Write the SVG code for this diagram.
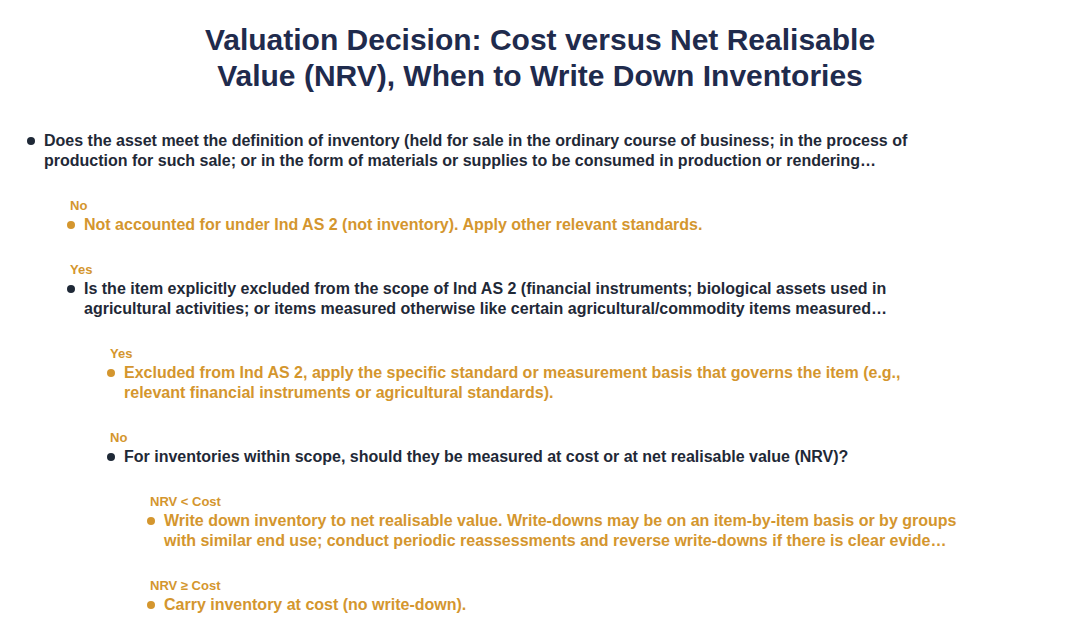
<svg xmlns="http://www.w3.org/2000/svg" width="1080" height="642" viewBox="0 0 1080 642">
<style>
.t{font-family:"Liberation Sans",Arial,sans-serif;font-weight:bold;font-size:30px;fill:#1f2b4d;text-anchor:middle}
.q{font-family:"Liberation Sans",Arial,sans-serif;font-weight:bold;font-size:16px;fill:#1f2937}
.a{font-family:"Liberation Sans",Arial,sans-serif;font-weight:bold;font-size:16px;fill:#d4962e}
.l{font-family:"Liberation Sans",Arial,sans-serif;font-weight:bold;font-size:13px;fill:#d4962e}
.dq{fill:#1f2937}
.da{fill:#d4962e}
</style>
<rect width="1080" height="642" fill="#ffffff"/>
<g id="title">
<text class="t" x="540" y="50">Valuation Decision: Cost versus Net Realisable</text>
<text class="t" x="540" y="86">Value (NRV), When to Write Down Inventories</text>
</g>
<g id="connectors">
<text class="l" x="70" y="210">No</text>
<text class="l" x="70" y="274">Yes</text>
<text class="l" x="110" y="358">Yes</text>
<text class="l" x="110" y="442">No</text>
<text class="l" x="150" y="506">NRV &lt; Cost</text>
<text class="l" x="150" y="590">NRV ≥ Cost</text>
</g>
<g id="q1">
<circle class="dq" cx="31" cy="141" r="4"/>
<text class="q" x="44" y="146">Does the asset meet the definition of inventory (held for sale in the ordinary course of business; in the process of</text>
<text class="q" x="44" y="166">production for such sale; or in the form of materials or supplies to be consumed in production or rendering…</text>
</g>
<g id="a1">
<circle class="da" cx="71" cy="225" r="4"/>
<text class="a" x="84" y="230">Not accounted for under Ind AS 2 (not inventory). Apply other relevant standards.</text>
</g>
<g id="q2">
<circle class="dq" cx="71" cy="289" r="4"/>
<text class="q" x="84" y="294">Is the item explicitly excluded from the scope of Ind AS 2 (financial instruments; biological assets used in</text>
<text class="q" x="84" y="314">agricultural activities; or items measured otherwise like certain agricultural/commodity items measured…</text>
</g>
<g id="a2">
<circle class="da" cx="111" cy="373" r="4"/>
<text class="a" x="124" y="378">Excluded from Ind AS 2, apply the specific standard or measurement basis that governs the item (e.g.,</text>
<text class="a" x="124" y="398">relevant financial instruments or agricultural standards).</text>
</g>
<g id="q3">
<circle class="dq" cx="111" cy="457" r="4"/>
<text class="q" x="124" y="462">For inventories within scope, should they be measured at cost or at net realisable value (NRV)?</text>
</g>
<g id="a3">
<circle class="da" cx="151" cy="521" r="4"/>
<text class="a" x="164" y="526">Write down inventory to net realisable value. Write-downs may be on an item-by-item basis or by groups</text>
<text class="a" x="164" y="546">with similar end use; conduct periodic reassessments and reverse write-downs if there is clear evide…</text>
</g>
<g id="a4">
<circle class="da" cx="151" cy="605" r="4"/>
<text class="a" x="164" y="610">Carry inventory at cost (no write-down).</text>
</g>
</svg>
